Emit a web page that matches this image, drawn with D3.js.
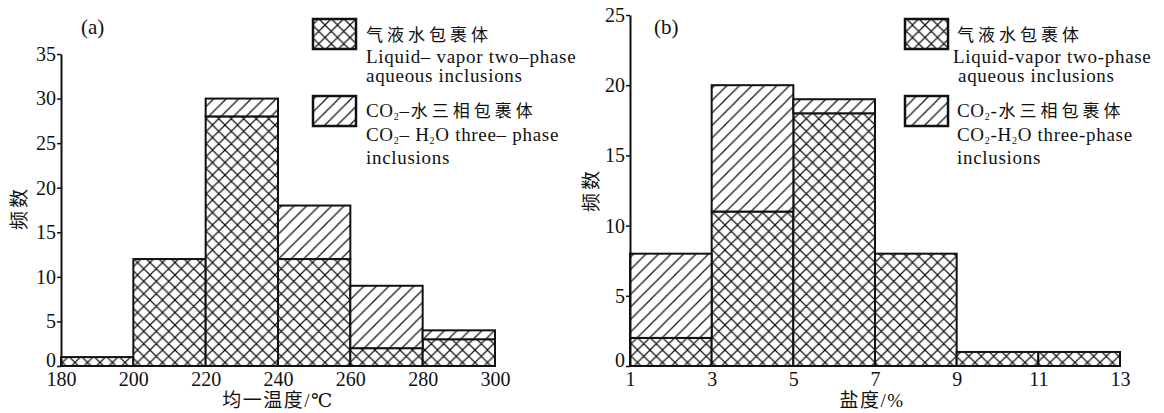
<!DOCTYPE html>
<html><head><meta charset="utf-8">
<script src="https://cdn.jsdelivr.net/npm/d3@7/dist/d3.min.js"></script>
<style>
body{margin:0;background:#fff;}
svg{display:block;}
svg text{font-family:'Liberation Serif','Times New Roman','DejaVu Serif','Noto Sans CJK SC',serif !important;fill:#111;}
</style></head>
<body>
<svg id="c" width="1164" height="413"></svg>
<script>
// ---- data ----
const binsA = [180, 200, 220, 240, 260, 280, 300];
const liquidA = [1, 12, 28, 12, 2, 3];
const co2A = [0, 0, 2, 6, 7, 1];
const yTicksA = [0, 5, 10, 15, 20, 25, 30, 35];

const binsB = [1, 3, 5, 7, 9, 11, 13];
const liquidB = [2, 11, 18, 8, 1, 1];
const co2B = [6, 9, 1, 0, 0, 0];
const yTicksB = [0, 5, 10, 15, 20, 25];

const legendCN1 = "气液水包裹体";
const legendEN1a_A = "Liquid\u2013 vapor two\u2013phase";
const legendEN1a_B = "Liquid-vapor two-phase";
const legendEN1b = "aqueous inclusions";

const svg = d3.select("#c");
const defs = svg.append("defs");

const P = 12.5;
const pc = defs.append("pattern").attr("id","cross").attr("patternUnits","userSpaceOnUse")
  .attr("width",P).attr("height",P);
pc.append("rect").attr("width",P).attr("height",P).attr("fill","#fff");
pc.append("path").attr("d",`M0,0L${P},${P}M-2,${P-2}L2,${P+2}M${P-2},-2L${P+2},2M${P},0L0,${P}M-2,2L2,-2M${P-2},${P+2}L${P+2},${P-2}`)
  .attr("stroke","#111").attr("stroke-width",1.2);
const ph = defs.append("pattern").attr("id","diag").attr("patternUnits","userSpaceOnUse")
  .attr("width",P).attr("height",P);
ph.append("rect").attr("width",P).attr("height",P).attr("fill","#fff");
ph.append("path").attr("d",`M0,${P}L${P},0M-2,2L2,-2M${P-2},${P+2}L${P+2},${P-2}`)
  .attr("stroke","#111").attr("stroke-width",1.2);

function panel(cfg){
  const g = svg.append("g");
  const x = d3.scaleLinear().domain([cfg.bins[0], cfg.bins[cfg.bins.length-1]]).range(cfg.xr);
  const y = d3.scaleLinear().domain([0, cfg.ymax]).range(cfg.yr);
  const rows = cfg.liquid.map((v,i)=>({x0:cfg.bins[i], x1:cfg.bins[i+1], liq:v, co2:cfg.co2[i]}));

  g.selectAll("rect.liq").data(rows.filter(d=>d.liq>0)).join("rect")
    .attr("x",d=>x(d.x0)).attr("width",d=>x(d.x1)-x(d.x0))
    .attr("y",d=>y(d.liq)).attr("height",d=>y(0)-y(d.liq))
    .attr("fill","url(#cross)").attr("stroke","#111").attr("stroke-width",2);
  g.selectAll("rect.co2").data(rows.filter(d=>d.co2>0)).join("rect")
    .attr("x",d=>x(d.x0)).attr("width",d=>x(d.x1)-x(d.x0))
    .attr("y",d=>y(d.liq+d.co2)).attr("height",d=>y(d.liq)-y(d.liq+d.co2))
    .attr("fill","url(#diag)").attr("stroke","#111").attr("stroke-width",2);

  const ya = g.append("g").attr("transform",`translate(${cfg.xr[0]},0)`)
    .call(d3.axisLeft(y).tickValues(cfg.yTicks).tickSize(4).tickSizeOuter(0).tickPadding(1));
  ya.select(".domain").attr("stroke","#111").attr("stroke-width",2);
  ya.selectAll(".tick line").attr("stroke","#111").attr("stroke-width",1.5);
  ya.selectAll("text").attr("font-size",20).attr("fill","#111");
  ya.selectAll(".tick").filter(d=>d===0).select("text").attr("dy","0em");

  const xa = g.append("g").attr("transform",`translate(0,${cfg.yr[0]})`)
    .call(d3.axisBottom(x).tickValues(cfg.bins).tickSize(0).tickPadding(6).tickFormat(d3.format("d")));
  xa.select(".domain").remove();
  xa.selectAll("text").attr("font-size",20).attr("fill","#111");

  g.append("text").attr("x",cfg.label[0]).attr("y",cfg.label[1]).attr("font-size",21).text(cfg.labelText);
  g.append("text").attr("x",cfg.xTitle[0]).attr("y",cfg.xTitle[1]).attr("text-anchor","middle")
    .attr("font-size",19).attr("letter-spacing",1.5).text(cfg.xTitleText);
  g.append("text").attr("transform",`translate(${cfg.yTitle[0]},${cfg.yTitle[1]}) rotate(-90)`)
    .attr("text-anchor","middle").attr("font-size",19).attr("letter-spacing",3).text("频数");

  const L = cfg.leg;
  g.append("rect").attr("x",L.bx).attr("y",19).attr("width",43).attr("height",30)
    .attr("fill","url(#cross)").attr("stroke","#111").attr("stroke-width",2.5);
  g.append("rect").attr("x",L.bx).attr("y",96).attr("width",43).attr("height",30)
    .attr("fill","url(#diag)").attr("stroke","#111").attr("stroke-width",2.5);
  const t = (xx,yy)=>g.append("text").attr("x",xx).attr("y",yy).attr("font-size",19).attr("letter-spacing",0.7);
  t(L.tx,41).attr("font-size",17).attr("letter-spacing",4).text(legendCN1);
  t(L.en1x,63).text(L.en1);
  t(L.en2x,82).text(legendEN1b);
  const c1 = t(L.tx,117);
  c1.append("tspan").text("CO");
  c1.append("tspan").attr("font-size",10).attr("dy",3).text("2");
  c1.append("tspan").attr("dy",-3).text(L.dash);
  c1.append("tspan").attr("font-size",17).attr("letter-spacing",4).attr("dx",1).text("水三相包裹体");
  const c2 = t(L.tx,141);
  c2.append("tspan").text("CO");
  c2.append("tspan").attr("font-size",10).attr("dy",3).text("2");
  c2.append("tspan").attr("dy",-3).text(L.dash2 + "H");
  c2.append("tspan").attr("font-size",10).attr("dy",3).text("2");
  c2.append("tspan").attr("dy",-3).text("O " + L.three);
  t(L.tx,164).text("inclusions");
}

panel({bins:binsA, liquid:liquidA, co2:co2A, yTicks:yTicksA, ymax:35,
  xr:[61,495], yr:[366,54], label:[81,34], labelText:"(a)",
  xTitle:[278,407], xTitleText:"均一温度/℃", yTitle:[26,208],
  leg:{bx:313, tx:366, en1x:366, en2x:366, en1:legendEN1a_A, dash:"\u2013", dash2:"\u2013 ", three:"three\u2013 phase"}});

panel({bins:binsB, liquid:liquidB, co2:co2B, yTicks:yTicksB, ymax:25,
  xr:[630,1120], yr:[366,15], label:[654,34], labelText:"(b)",
  xTitle:[872,407], xTitleText:"盐度/%", yTitle:[598,190],
  leg:{bx:905, tx:957, en1x:953, en2x:958, en1:legendEN1a_B, dash:"-", dash2:"-", three:"three-phase"}});
</script>
</body></html>
